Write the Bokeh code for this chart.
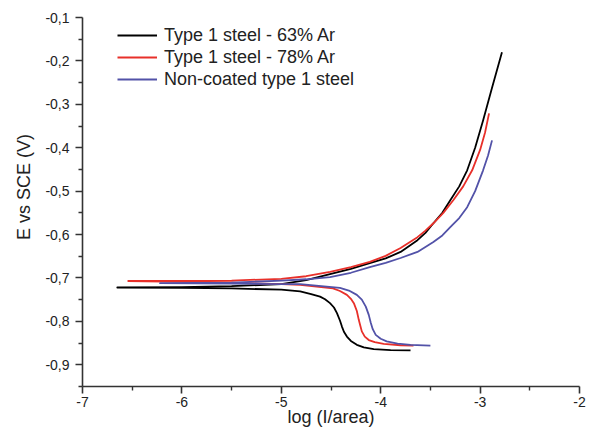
from bokeh.plotting import figure
from bokeh.models import FixedTicker, Legend, LegendItem, Range1d
from bokeh.embed import file_html
from bokeh.resources import INLINE

# ---- data ----
series_names = ["Type 1 steel - 63% Ar", "Type 1 steel - 78% Ar", "Non-coated type 1 steel"]
series_colors = ["#000000", "#e8302a", "#5252a8"]

# Type 1 steel - 63% Ar (cathodic end -> Ecorr -> anodic end)
x63 = [-3.70, -3.90, -4.07, -4.17, -4.24, -4.30, -4.34, -4.37, -4.39, -4.41, -4.44, -4.47, -4.51, -4.56,
       -4.61, -4.70, -4.81, -5.00, -5.50, -6.00, -6.65,
       -6.00, -5.50, -5.00, -4.75, -4.51, -4.30, -4.11, -3.95, -3.80, -3.63, -3.55, -3.47, -3.38, -3.30,
       -3.21, -3.13, -3.05, -2.97, -2.88, -2.78]
y63 = [-0.867, -0.866, -0.864, -0.860, -0.854, -0.845, -0.835, -0.824, -0.812, -0.798, -0.781, -0.768, -0.758, -0.749,
       -0.743, -0.737, -0.731, -0.727, -0.724, -0.723, -0.722,
       -0.721, -0.719, -0.714, -0.705, -0.691, -0.679, -0.666, -0.655, -0.640, -0.613, -0.596, -0.574, -0.550, -0.521,
       -0.489, -0.452, -0.400, -0.337, -0.262, -0.180]

# Type 1 steel - 78% Ar
x78 = [-3.67, -3.80, -3.97, -4.06, -4.12, -4.16, -4.19, -4.205, -4.22, -4.24, -4.27, -4.30, -4.34, -4.41,
       -4.48, -4.81, -5.00, -5.50, -6.00, -6.54,
       -6.00, -5.50, -5.00, -4.75, -4.51, -4.30, -4.11, -3.95, -3.80, -3.63, -3.55, -3.47, -3.37, -3.27, -3.17,
       -3.08, -3.00, -2.95, -2.91]
y78 = [-0.856, -0.855, -0.852, -0.848, -0.843, -0.835, -0.823, -0.810, -0.797, -0.776, -0.758, -0.748, -0.739, -0.730,
       -0.724, -0.716, -0.714, -0.711, -0.709, -0.707,
       -0.707, -0.706, -0.702, -0.696, -0.686, -0.675, -0.663, -0.649, -0.631, -0.606, -0.591, -0.574, -0.550, -0.521,
       -0.489, -0.452, -0.405, -0.365, -0.321]

# Non-coated type 1 steel
xnc = [-3.50, -3.70, -3.83, -3.94, -4.00, -4.05, -4.08, -4.10, -4.12, -4.15, -4.19, -4.24, -4.32, -4.41,
       -4.81, -5.00, -5.50, -6.22,
       -5.50, -5.00, -4.75, -4.51, -4.30, -4.11, -3.95, -3.80, -3.63, -3.47, -3.38, -3.30, -3.21, -3.13,
       -3.05, -2.97, -2.92, -2.88]
ync = [-0.856, -0.854, -0.851, -0.846, -0.840, -0.831, -0.818, -0.803, -0.785, -0.766, -0.750, -0.739, -0.729, -0.723,
       -0.714, -0.714, -0.713, -0.712,
       -0.711, -0.706, -0.703, -0.698, -0.688, -0.675, -0.665, -0.654, -0.640, -0.617, -0.602, -0.583, -0.562, -0.537,
       -0.500, -0.452, -0.418, -0.383]

x_major = [-7, -6, -5, -4, -3, -2]
x_minor = [-6.5, -5.5, -4.5, -3.5, -2.5]
x_labels = ["-7", "-6", "-5", "-4", "-3", "-2"]
y_major = [-0.9, -0.8, -0.7, -0.6, -0.5, -0.4, -0.3, -0.2, -0.1]
y_minor = [-0.95, -0.85, -0.75, -0.65, -0.55, -0.45, -0.35, -0.25, -0.15]
y_labels = ["-0,9", "-0,8", "-0,7", "-0,6", "-0,5", "-0,4", "-0,3", "-0,2", "-0,1"]

FONT = "Liberation Sans"
TXT = "#222222"

p = figure(width=590, height=430, output_backend="svg", toolbar_location=None,
           x_range=Range1d(-7, -2), y_range=Range1d(-0.95, -0.1),
           min_border_left=82, min_border_right=11, min_border_top=17, min_border_bottom=44,
           x_axis_label="log (I/area)",
           y_axis_label="\u00a0\u00a0\u00a0\u00a0\u00a0\u00a0E vs SCE (V)")
p.outline_line_color = None
p.grid.visible = False
p.background_fill_color = "white"
p.border_fill_color = "white"

renderers = []
for xs, ys, c in [(x63, y63, series_colors[0]), (x78, y78, series_colors[1]), (xnc, ync, series_colors[2])]:
    r = p.line(xs, ys, line_color=c, line_width=1.8, line_join="round")
    renderers.append(r)

for ax in (p.xaxis[0], p.yaxis[0]):
    ax.axis_line_color = "#333333"
    ax.axis_line_width = 1.6
    ax.major_tick_line_color = "#333333"
    ax.minor_tick_line_color = "#333333"
    ax.major_tick_line_width = 1.6
    ax.minor_tick_line_width = 1.4
    ax.major_tick_in = 0
    ax.minor_tick_in = 0
    ax.major_tick_out = 7
    ax.minor_tick_out = 4
    ax.major_label_text_font = FONT
    ax.major_label_text_font_size = "14px"
    ax.major_label_text_color = TXT
    ax.axis_label_text_font = FONT
    ax.axis_label_text_font_size = "18px"
    ax.axis_label_text_font_style = "normal"
    ax.axis_label_text_color = TXT

p.xaxis[0].ticker = FixedTicker(ticks=x_major, minor_ticks=x_minor)
p.xaxis[0].major_label_overrides = {t: l for t, l in zip(x_major, x_labels)}
p.yaxis[0].ticker = FixedTicker(ticks=y_major, minor_ticks=y_minor)
p.yaxis[0].major_label_overrides = {t: l for t, l in zip(y_major, y_labels)}
p.xaxis[0].major_label_standoff = 3
p.xaxis[0].axis_label_standoff = -3
p.yaxis[0].major_label_standoff = 6
p.yaxis[0].axis_label_standoff = 8

legend = Legend(items=[LegendItem(label=n, renderers=[r]) for n, r in zip(series_names, renderers)],
                location=(35, 296), padding=0, margin=0, spacing=0,
                glyph_width=40, glyph_height=22, label_height=22, label_standoff=7,
                border_line_alpha=0, background_fill_alpha=0,
                label_text_font=FONT, label_text_font_size="18px", label_text_color=TXT)
p.add_layout(legend)

open("out.html", "w").write(file_html(p, INLINE))
